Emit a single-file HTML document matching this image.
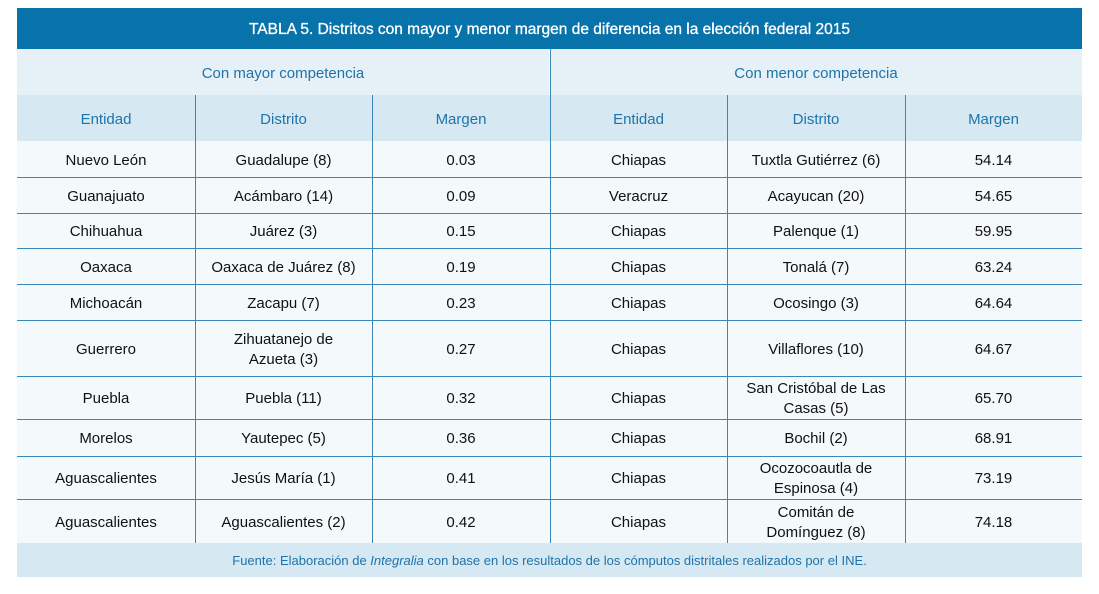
<!DOCTYPE html>
<html><head><meta charset="utf-8"><style>
body{margin:0;background:#fff;width:1099px;height:594px;position:relative;font-family:"Liberation Sans",sans-serif;overflow:hidden}
.t{position:absolute;left:17px;top:8px;width:1065px;height:41px;background:#0872aa;color:#fff;font-size:15.5px;text-align:center;line-height:44px;-webkit-text-stroke:0.3px #fff}
.sub{position:absolute;top:49px;height:46px;width:532px;background:#e6f1f7;color:#1f73aa;font-size:15px;text-align:center;line-height:49px}
.hd{position:absolute;top:95px;height:46px;background:#d6e8f2;color:#1f73aa;font-size:15px;text-align:center;line-height:49px}
.c{position:absolute;background:#f4f9fc;color:#111;font-size:15px;display:flex;align-items:center;justify-content:center;text-align:center;line-height:20px;box-sizing:border-box;padding-top:3px}
.v{position:absolute;width:1px;background:#3b87b8}
.h{position:absolute;height:1px;background:#3b87b8;left:17px;width:1065px}
.f{position:absolute;left:17px;top:543px;width:1065px;height:34px;background:#d6e8f2;color:#1f73aa;font-size:13px;text-align:center;line-height:36px}
</style></head><body>
<div class="t">TABLA 5. Distritos con mayor y menor margen de diferencia en la elección federal 2015</div>
<div class="sub" style="left:17px">Con mayor competencia</div>
<div class="sub" style="left:550px;width:532px">Con menor competencia</div>
<div id="g"></div>
<div class="f">Fuente: Elaboración de <i>Integralia</i> con base en los resultados de los cómputos distritales realizados por el INE.</div>
<script>
var cols=[17,195,372,550,727,905,1082];
var hdr=["Entidad","Distrito","Margen","Entidad","Distrito","Margen"];
var rows=[141,177,213,248,284,320,376,419,456,499,543];
var d=[
["Nuevo León","Guadalupe (8)","0.03","Chiapas","Tuxtla Gutiérrez (6)","54.14"],
["Guanajuato","Acámbaro (14)","0.09","Veracruz","Acayucan (20)","54.65"],
["Chihuahua","Juárez (3)","0.15","Chiapas","Palenque (1)","59.95"],
["Oaxaca","Oaxaca de Juárez (8)","0.19","Chiapas","Tonalá (7)","63.24"],
["Michoacán","Zacapu (7)","0.23","Chiapas","Ocosingo (3)","64.64"],
["Guerrero","Zihuatanejo de<br>Azueta (3)","0.27","Chiapas","Villaflores (10)","64.67"],
["Puebla","Puebla (11)","0.32","Chiapas","San Cristóbal de Las<br>Casas (5)","65.70"],
["Morelos","Yautepec (5)","0.36","Chiapas","Bochil (2)","68.91"],
["Aguascalientes","Jesús María (1)","0.41","Chiapas","Ocozocoautla de<br>Espinosa (4)","73.19"],
["Aguascalientes","Aguascalientes (2)","0.42","Chiapas","Comitán de<br>Domínguez (8)","74.18"]];
var h="";
for(var j=0;j<6;j++){h+='<div class="hd" style="left:'+cols[j]+'px;width:'+(cols[j+1]-cols[j])+'px">'+hdr[j]+'</div>';}
for(var i=0;i<10;i++)for(var j=0;j<6;j++){h+='<div class="c" style="left:'+cols[j]+'px;width:'+(cols[j+1]-cols[j])+'px;top:'+rows[i]+'px;height:'+(rows[i+1]-rows[i])+'px">'+d[i][j]+'</div>';}
for(var i=1;i<10;i++)h+='<div class="h" style="top:'+rows[i]+'px"></div>';
for(var j=1;j<6;j++)h+='<div class="v" style="left:'+cols[j]+'px;top:'+(j==3?49:95)+'px;height:'+(543-(j==3?49:95))+'px"></div>';
document.getElementById("g").innerHTML=h;
</script>
</body></html>
